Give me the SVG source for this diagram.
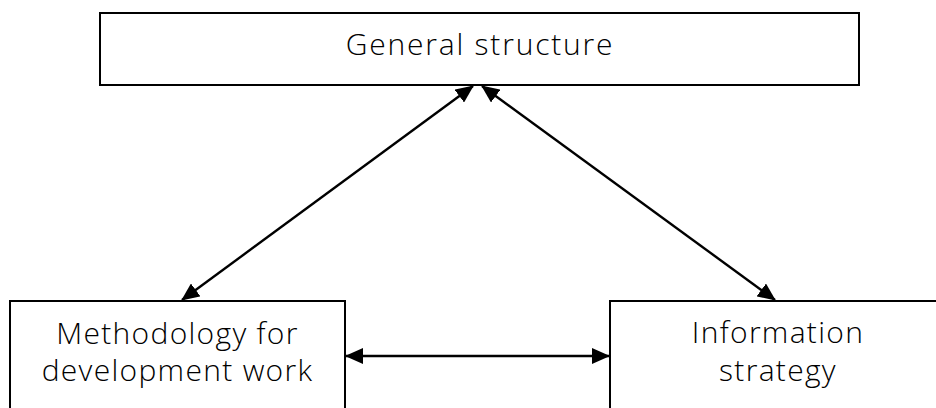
<svg xmlns="http://www.w3.org/2000/svg" width="936" height="408" viewBox="0 0 936 408">
<style>
.box{fill:#fff;stroke:#000;stroke-width:2}
.lbl{font-family:"Open Sans","Liberation Sans",sans-serif;font-weight:300;font-size:30px;fill:#000;text-anchor:middle;letter-spacing:1.3px}
.wide{letter-spacing:1.8px}
.con{stroke:#000;stroke-width:2.4;fill:none;marker-start:url(#ah);marker-end:url(#ah)}
</style>
<defs>
<marker id="ah" markerUnits="userSpaceOnUse" markerWidth="18" markerHeight="16" refX="17" refY="8" orient="auto-start-reverse" viewBox="0 0 18 16">
<path d="M0,0 L18,8 L0,16 z" fill="#000"/>
</marker>
</defs>
<g id="node-general">
<rect class="box" x="100" y="13" width="759" height="72"/>
<text class="lbl wide" x="480" y="55">General structure</text>
</g>
<g id="node-methodology">
<rect class="box" x="10" y="301" width="335" height="130"/>
<text class="lbl" x="177.5" y="344">Methodology for</text>
<text class="lbl" x="177.5" y="381">development work</text>
</g>
<g id="node-information">
<rect class="box" x="610" y="301" width="345" height="130"/>
<text class="lbl" x="778" y="343">Information</text>
<text class="lbl" x="778" y="381">strategy</text>
</g>
<g id="connectors">
<line class="con" x1="473" y1="86" x2="182" y2="300"/>
<line class="con" x1="482" y1="86" x2="775" y2="300"/>
<line class="con" x1="346" y1="356" x2="609" y2="356"/>
</g>
</svg>
